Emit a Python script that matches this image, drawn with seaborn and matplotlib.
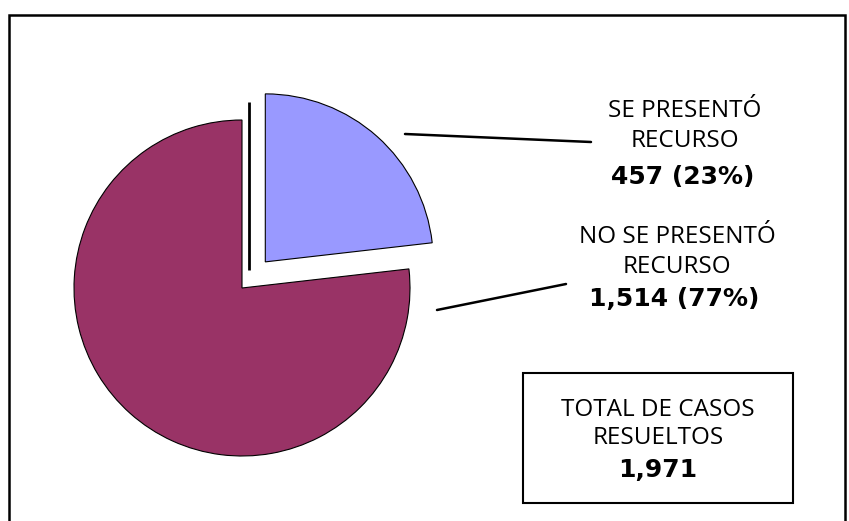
import matplotlib
matplotlib.use("Agg")
import matplotlib.pyplot as plt
import seaborn as sns
from matplotlib.patches import Rectangle

# datos
categorias = ["SE PRESENTÓ\nRECURSO", "NO SE PRESENTÓ\nRECURSO"]
casos = [457, 1514]
colores = ["#9999FF", "#993366"]
titulo_total = "TOTAL DE CASOS\nRESUELTOS"

W, H = 849, 521

sns.set_theme(style="white")
plt.rcParams["font.family"] = ["Open Sans", "DejaVu Sans"]

fig = plt.figure(figsize=(W / 100, H / 100), dpi=100)
ax = fig.add_axes([0, 0, 1, 1])

total = sum(casos)
radio = 168
centro = (242, H - 288)
sep = 35

wedges, _ = ax.pie(
    casos,
    colors=colores,
    startangle=90,
    counterclock=False,
    radius=radio,
    center=centro,
    explode=[sep, 0],
    frame=True,
    wedgeprops=dict(edgecolor="black", linewidth=0.8),
)
ax.set_xlim(0, W)
ax.set_ylim(0, H)
ax.axis("off")

# sombra del sector separado
cx, cy = wedges[0].center
ax.plot([cx - 16, cx - 16], [cy - 8, cy - 8 + radio],
        color="black", lw=2.0, solid_capstyle="butt")

# etiquetas
pos_texto = [(685, 126), (677, 252)]
pos_valor = [(683, 177), (674, 299)]
lineas = [((405, 134), (591, 142)), ((437, 310), (566, 284))]
for cat, v, (tx, ty), (vx, vy), (p0, p1) in zip(categorias, casos, pos_texto,
                                                 pos_valor, lineas):
    pct = round(100 * v / total)
    ax.text(tx, H - ty, cat, ha="center", va="center",
            fontsize=17.5, linespacing=1.32, color="black")
    ax.text(vx, H - vy, f"{v:,} ({pct}%)", ha="center", va="center",
            fontsize=18, fontweight="bold", color="black",
            family=["DejaVu Sans"])
    ax.plot([p0[0], p1[0]], [H - p0[1], H - p1[1]], color="black", lw=1.8)

# caja del total
ax.add_patch(Rectangle((523, H - 503), 270, 130, fill=False,
                       edgecolor="black", lw=1.5, clip_on=False))
ax.text(658, H - 424, titulo_total, ha="center", va="center",
        fontsize=17.5, linespacing=1.2, color="black")
ax.text(658, H - 470, f"{total:,}", ha="center", va="center",
        fontsize=18, fontweight="bold", color="black",
        family=["DejaVu Sans"])

# marco exterior
ax.add_patch(Rectangle((9, -20), 836, H - 15 + 20, fill=False,
                       edgecolor="black", lw=1.8, clip_on=False))

fig.savefig("out.png", dpi=100)
